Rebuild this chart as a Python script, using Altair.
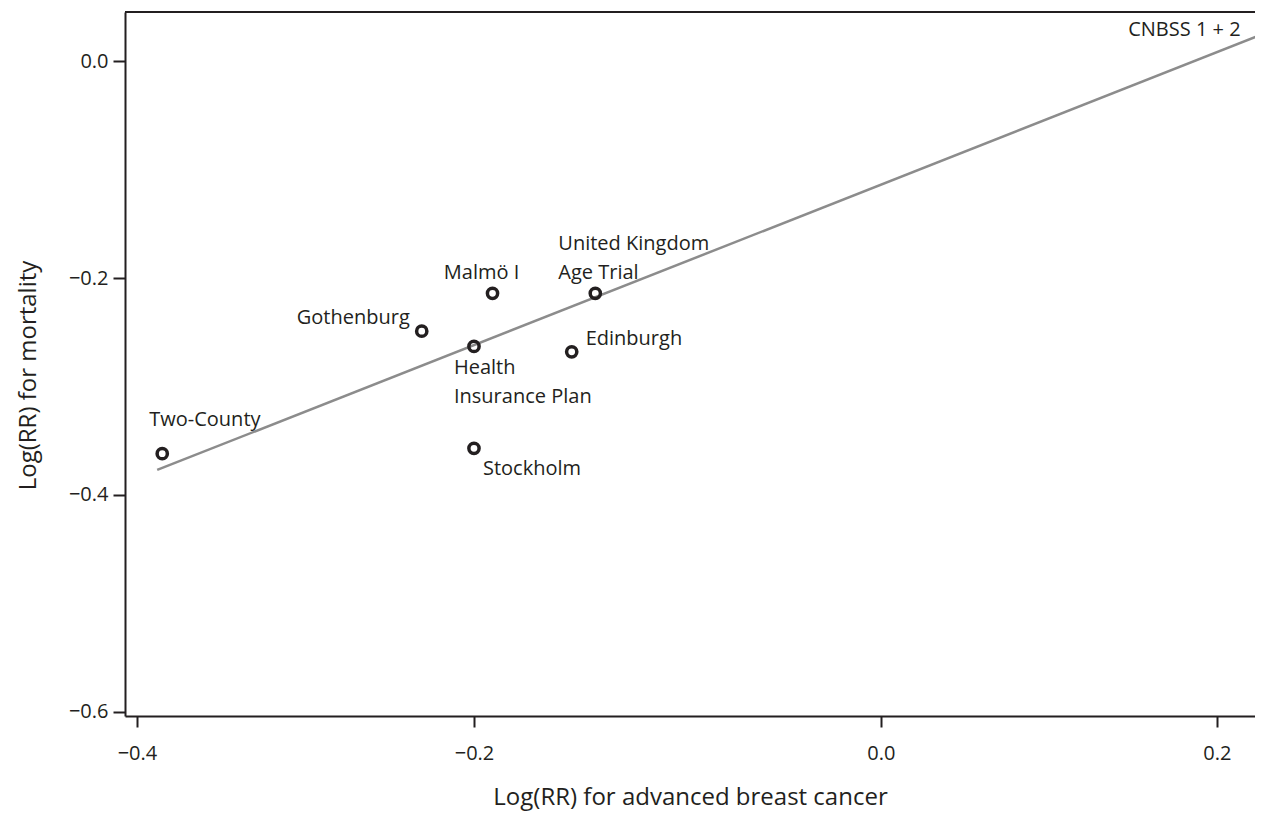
import altair as alt
import pandas as pd

# ---- data ----
studies = ["Two-County", "Gothenburg", "Malmö I", "Health\nInsurance Plan",
           "Stockholm", "Edinburgh", "United Kingdom\nAge Trial", "CNBSS 1 + 2"]
log_rr_advanced = [-0.385, -0.231, -0.189, -0.200, -0.200, -0.142, -0.128, 0.268]
log_rr_mortality = [-0.362, -0.249, -0.214, -0.263, -0.357, -0.268, -0.214, 0.033]

fit_x = [-0.388, 0.268]
fit_y = [-0.377, 0.025]

# tick positions of the reference axis (x labels as printed)
x_tick_values = [-0.4, -0.2, 0.0415, 0.2409]
x_tick_labels = ["−0.4", "−0.2", "0.0", "0.2"]
y_tick_values = [0.0, -0.2, -0.4, -0.6]

X_DOMAIN = [-0.4071, 0.2635]
Y_DOMAIN = [-0.6040, 0.0455]

W, H = 1130, 704
INK = "#231f20"
FONT = "Open Sans"

df = pd.DataFrame({"study": studies, "adv": log_rr_advanced, "mort": log_rr_mortality})
fit = pd.DataFrame({"adv": fit_x, "mort": fit_y})

label_expr = " : ".join(
    f"abs(datum.value - ({v})) < 0.01 ? '{t}'" for v, t in zip(x_tick_values, x_tick_labels)
) + " : ''"

xscale = alt.Scale(domain=X_DOMAIN, nice=False, zero=False)
yscale = alt.Scale(domain=Y_DOMAIN, nice=False, zero=False)

x_enc = alt.X("adv:Q", scale=xscale,
              axis=alt.Axis(values=x_tick_values, labelExpr=label_expr,
                            title="Log(RR) for advanced breast cancer",
                            tickSize=11, labelPadding=16, titlePadding=22))
y_enc = alt.Y("mort:Q", scale=yscale,
              axis=alt.Axis(values=y_tick_values, format=".1f",
                            title="Log(RR) for mortality", titleY=363,
                            tickSize=12, labelPadding=5, titlePadding=28))

line = alt.Chart(fit).mark_line(color="#8c8c8c", strokeWidth=2.5).encode(x=x_enc, y=y_enc)

points = alt.Chart(df).mark_point(shape="circle", filled=False, size=105,
                                  strokeWidth=3.5, color=INK, opacity=1).encode(
    x=alt.X("adv:Q", scale=xscale), y=alt.Y("mort:Q", scale=yscale))

label_style = {
    "Two-County": dict(align="left", dx=-13, dy=-28),
    "Gothenburg": dict(align="right", dx=-12, dy=-7),
    "Malmö I": dict(align="center", dx=-11, dy=-14),
    "Health\nInsurance Plan": dict(align="left", dx=-20, dy=28),
    "Stockholm": dict(align="left", dx=9, dy=27),
    "Edinburgh": dict(align="left", dx=14, dy=-7),
    "United Kingdom\nAge Trial": dict(align="left", dx=-37, dy=-43),
    "CNBSS 1 + 2": dict(align="right", dx=-22, dy=10),
}

labels = []
for name in studies:
    st = label_style[name]
    labels.append(
        alt.Chart(df).transform_filter(alt.datum.study == name).mark_text(
            font=FONT, fontSize=20, color=INK, baseline="alphabetic",
            lineBreak="\n", lineHeight=29, **st
        ).encode(x=alt.X("adv:Q", scale=xscale), y=alt.Y("mort:Q", scale=yscale),
                 text="study:N")
    )

top_border = alt.Chart(pd.DataFrame({"a": [0]})).mark_rule(
    color=INK, strokeWidth=2).encode(x=alt.value(0), x2=alt.value(W), y=alt.value(0))

chart = alt.layer(line, points, *labels, top_border).properties(
    width=W, height=H,
    autosize=alt.AutoSizeParams(type="none"),
    padding={"left": 117, "top": 4, "right": 0, "bottom": 96},
).configure_view(stroke=None).configure_axis(
    grid=False, domainColor=INK, domainWidth=2, tickColor=INK, tickWidth=2,
    labelColor=INK, titleColor=INK, labelFont=FONT, titleFont=FONT,
    labelFontSize=20, titleFontSize=24, titleFontWeight="normal",
)

chart.save("out.html", embed_options={"renderer": "svg", "actions": False})
